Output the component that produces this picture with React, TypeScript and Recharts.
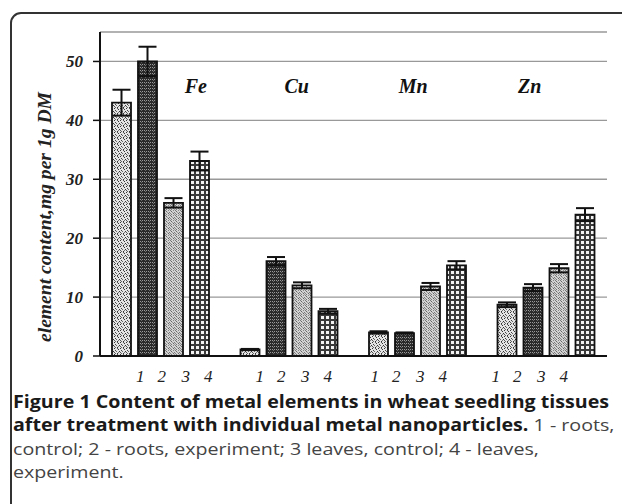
import React from 'react';
import { BarChart, Bar, XAxis, YAxis, CartesianGrid, ErrorBar } from 'recharts';

const elements = ['Fe', 'Cu', 'Mn', 'Zn'];
const rootsControl = [43.0, 1.1, 4.0, 8.7];
const rootsControlErr = [2.2, 0.1, 0.2, 0.4];
const rootsExperiment = [50.0, 16.1, 3.9, 11.6];
const rootsExperimentErr = [2.5, 0.7, 0.1, 0.6];
const leavesControl = [26.0, 12.0, 11.8, 14.9];
const leavesControlErr = [0.8, 0.5, 0.6, 0.7];
const leavesExperiment = [33.1, 7.6, 15.4, 24.0];
const leavesExperimentErr = [1.6, 0.4, 0.7, 1.1];
const seriesLabels = ['1', '2', '3', '4'];
const yTicks = [0, 10, 20, 30, 40, 50];
const yLabel = 'element content,mg per 1g DM';

const data = elements.map((el, i) => ({
  element: el,
  s1: rootsControl[i],
  e1: rootsControlErr[i],
  s2: rootsExperiment[i],
  e2: rootsExperimentErr[i],
  s3: leavesControl[i],
  e3: leavesControlErr[i],
  s4: leavesExperiment[i],
  e4: leavesExperimentErr[i],
}));

const serif = "'Liberation Serif', Tinos, 'Times New Roman', Times, serif";
const digitOffsets = [-34, -12.5, 11.5, 34];
const groupShift = [14, 5, -8.5, -16];
const nameShift = [35.5, 8, -4, -16];

const XTick = (props: any) => {
  const { x, payload } = props;
  const idx = elements.indexOf(payload.value);
  return (
    <g>
      <text
        x={x + nameShift[idx]}
        y={93}
        textAnchor="middle"
        style={{ fontFamily: serif, fontStyle: 'italic', fontWeight: 'bold', fontSize: 20 }}
        fill="#111"
      >
        {payload.value}
      </text>
      {seriesLabels.map((d, j) => (
        <text
          key={j}
          x={x + groupShift[idx] + digitOffsets[j]}
          y={382}
          textAnchor="middle"
          style={{ fontFamily: serif, fontStyle: 'italic', fontSize: 17 }}
          fill="#222"
        >
          {d}
        </text>
      ))}
    </g>
  );
};

const YTick = (props: any) => {
  const { x, y, payload } = props;
  return (
    <text
      x={x}
      y={y}
      textAnchor="end"
      dominantBaseline="central"
      style={{ fontFamily: serif, fontStyle: 'italic', fontWeight: 'bold', fontSize: 17 }}
      fill="#222"
    >
      {payload.value}
    </text>
  );
};

const captionLine: React.CSSProperties = {
  transform: 'scaleX(1.155)',
  transformOrigin: 'left center',
  height: 23.3,
};

export default function App() {
  return (
    <div
      style={{
        position: 'absolute',
        left: 0,
        top: 0,
        width: 622,
        height: 504,
        overflow: 'hidden',
        background: '#fff',
      }}
    >
      <div
        style={{
          position: 'absolute',
          left: 10,
          top: 12,
          width: 660,
          height: 560,
          border: '2px solid #333',
          borderRadius: 11,
        }}
      />
      <div style={{ position: 'absolute', left: 0, top: 0 }}>
        <BarChart
          width={622}
          height={504}
          data={data}
          margin={{ top: 32, right: 15, bottom: 118, left: 40 }}
          barSize={19}
          barGap={7}
        >
          <defs>
            <pattern id="p1" width="6" height="6" patternUnits="userSpaceOnUse">
              <rect width="6" height="6" fill="#e4e4e4" />
              <rect x="0" y="0" width="1" height="1" fill="#333" />
              <rect x="3" y="0" width="1" height="1" fill="#555" />
              <rect x="4" y="1" width="1" height="1" fill="#333" />
              <rect x="1" y="2" width="1" height="1" fill="#444" />
              <rect x="5" y="3" width="1" height="1" fill="#333" />
              <rect x="2" y="3" width="1" height="1" fill="#666" />
              <rect x="0" y="4" width="1" height="1" fill="#555" />
              <rect x="3" y="5" width="1" height="1" fill="#333" />
              <rect x="4" y="4" width="1" height="1" fill="#777" />
              <rect x="1" y="5" width="1" height="1" fill="#666" />
            </pattern>
            <pattern id="p2" width="4" height="3" patternUnits="userSpaceOnUse">
              <rect width="4" height="3" fill="#2a2a2a" />
              <rect x="0" y="1" width="1" height="1" fill="#9a9a9a" />
              <rect x="2" y="1" width="1" height="1" fill="#9a9a9a" />
              <rect x="1" y="2" width="1" height="1" fill="#6a6a6a" />
            </pattern>
            <pattern id="p3" width="5" height="5" patternUnits="userSpaceOnUse">
              <rect width="5" height="5" fill="#d2d2d2" />
              <rect x="0" y="0" width="1" height="1" fill="#777" />
              <rect x="3" y="0" width="1" height="1" fill="#888" />
              <rect x="1" y="1" width="1" height="1" fill="#666" />
              <rect x="4" y="2" width="1" height="1" fill="#777" />
              <rect x="2" y="2" width="1" height="1" fill="#999" />
              <rect x="0" y="3" width="1" height="1" fill="#888" />
              <rect x="3" y="3" width="1" height="1" fill="#666" />
              <rect x="1" y="4" width="1" height="1" fill="#777" />
              <rect x="4" y="4" width="1" height="1" fill="#999" />
            </pattern>
            <pattern id="p4" width="5" height="5" patternUnits="userSpaceOnUse">
              <rect width="5" height="5" fill="#3a3a3a" />
              <rect x="1" y="1" width="3" height="3" fill="#f2f2f2" />
            </pattern>
          </defs>
          <CartesianGrid vertical={false} stroke="#999" strokeWidth={1.3} />
          <XAxis
            xAxisId="top"
            orientation="top"
            dataKey="element"
            height={0}
            tick={false}
            tickLine={false}
            axisLine={{ stroke: '#999', strokeWidth: 1.3 }}
          />
          <YAxis
            yAxisId="right"
            orientation="right"
            width={0}
            domain={[0, 55]}
            tick={false}
            tickLine={false}
            axisLine={{ stroke: '#999', strokeWidth: 1.3 }}
          />
          <XAxis
            dataKey="element"
            height={30}
            padding={{ left: -4, right: -3 }}
            tickLine={false}
            axisLine={{ stroke: '#111', strokeWidth: 2 }}
            tick={<XTick />}
            interval={0}
          />
          <YAxis
            width={60}
            domain={[0, 55]}
            ticks={yTicks}
            tickSize={7}
            tickMargin={10}
            axisLine={{ stroke: '#111', strokeWidth: 2 }}
            tickLine={{ stroke: '#111', strokeWidth: 1.5 }}
            tick={<YTick />}
          />
          <Bar dataKey="s1" fill="url(#p1)" stroke="#111" strokeWidth={1.8} isAnimationActive={false}>
            <ErrorBar dataKey="e1" width={9} stroke="#111" strokeWidth={2} />
          </Bar>
          <Bar dataKey="s2" fill="url(#p2)" stroke="#111" strokeWidth={1.8} isAnimationActive={false}>
            <ErrorBar dataKey="e2" width={9} stroke="#111" strokeWidth={2} />
          </Bar>
          <Bar dataKey="s3" fill="url(#p3)" stroke="#111" strokeWidth={1.8} isAnimationActive={false}>
            <ErrorBar dataKey="e3" width={9} stroke="#111" strokeWidth={2} />
          </Bar>
          <Bar dataKey="s4" fill="url(#p4)" stroke="#111" strokeWidth={1.8} isAnimationActive={false}>
            <ErrorBar dataKey="e4" width={9} stroke="#111" strokeWidth={2} />
          </Bar>
          <text
            x={45}
            y={217}
            transform="rotate(-90 45 217)"
            textAnchor="middle"
            dominantBaseline="central"
            style={{ fontFamily: serif, fontStyle: 'italic', fontWeight: 'bold', fontSize: 18 }}
            fill="#222"
            textLength={250}
            lengthAdjust="spacingAndGlyphs"
          >
            {yLabel}
          </text>
        </BarChart>
      </div>
      <div
        style={{
          position: 'absolute',
          left: 13,
          top: 390,
          width: 530,
          fontFamily: '"Open Sans", sans-serif',
          fontSize: 17,
          lineHeight: '23.3px',
          color: '#444',
          whiteSpace: 'nowrap',
        }}
      >
        <div style={{ ...captionLine, fontWeight: 'bold', color: '#1a1a1a' }}>
          Figure 1 Content of metal elements in wheat seedling tissues
        </div>
        <div style={captionLine}>
          <span style={{ fontWeight: 'bold', color: '#1a1a1a' }}>
            after treatment with individual metal nanoparticles.
          </span>{' '}
          1 - roots,
        </div>
        <div style={captionLine}>control; 2 - roots, experiment; 3 leaves, control; 4 - leaves,</div>
        <div style={captionLine}>experiment.</div>
      </div>
    </div>
  );
}
